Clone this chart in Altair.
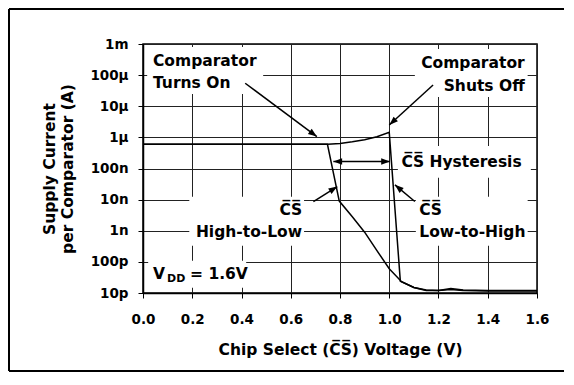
import math
import altair as alt
import pandas as pd

OL = "\u0305"
CS = "C" + OL + "S" + OL
FONT = "DejaVu Sans"

# ---- series (voltage V, current A) ----
lh_v = [0.0, 0.2, 0.4, 0.6, 0.7, 0.75, 0.8, 0.85, 0.9, 0.95, 1.0, 1.045, 1.1, 1.15, 1.2, 1.25, 1.3, 1.4, 1.5, 1.6]
lh_i = [6.0e-7, 6.0e-7, 6.0e-7, 6.0e-7, 6.0e-7, 6.0e-7, 6.4e-7, 7.2e-7, 8.4e-7, 1.05e-6, 1.45e-6,
        2.4e-11, 1.5e-11, 1.2e-11, 1.2e-11, 1.4e-11, 1.25e-11, 1.2e-11, 1.2e-11, 1.2e-11]
hl_v = [0.0, 0.2, 0.4, 0.6, 0.7, 0.749, 0.797, 0.85, 0.9, 0.95, 1.0, 1.05, 1.1, 1.15, 1.2, 1.25, 1.3, 1.4, 1.5, 1.6]
hl_i = [6.0e-7, 6.0e-7, 6.0e-7, 6.0e-7, 6.0e-7, 6.0e-7, 9.0e-9, 2.8e-9, 9.0e-10, 2.3e-10, 6.0e-11,
        2.3e-11, 1.5e-11, 1.25e-11, 1.2e-11, 1.3e-11, 1.2e-11, 1.15e-11, 1.15e-11, 1.15e-11]

x_ticks = [0.0, 0.2, 0.4, 0.6, 0.8, 1.0, 1.2, 1.4, 1.6]
y_ticks = [1e-11, 1e-10, 1e-9, 1e-8, 1e-7, 1e-6, 1e-5, 1e-4, 1e-3]

# ---- annotations ----
note_text = ["Comparator", "Turns On", "Comparator", "Shuts Off", CS + " Hysteresis",
             CS, "High-to-Low", CS, "Low-to-High"]
note_v = [0.0406, 0.0406, 1.550, 1.550, 1.050, 0.646, 0.646, 1.122, 1.122]
note_i = [1.97e-4, 3.87e-5, 1.70e-4, 3.10e-5, 1.15e-7, 3.25e-9, 6.26e-10, 3.25e-9, 6.26e-10]
note_align = ["left", "left", "right", "right", "left", "right", "right", "left", "left"]

box_v0 = [0.017, 1.104, 1.035, 0.188, 1.108, 0.021]
box_v1 = [0.488, 1.562, 1.575, 0.654, 1.562, 0.419]
box_i0 = [8.0e-4, 6.9e-4, 5.33e-7, 1.23e-8, 1.23e-8, 1.09e-10]
box_i1 = [2.48e-5, 1.99e-5, 5.0e-8, 3.29e-10, 3.29e-10, 1.48e-11]

arrow_v0 = [0.415, 1.178, 0.773, 0.692, 1.104]
arrow_i0 = [5.48e-5, 4.83e-5, 1.67e-7, 8.69e-9, 8.69e-9]
arrow_v1 = [0.706, 1.000, 1.003, 0.789, 1.023]
arrow_i1 = [1.06e-6, 2.51e-6, 1.67e-7, 2.63e-8, 2.99e-8]
arrow_both = [False, False, True, False, False]

vdd_v = [0.0406]
vdd_i = [2.87e-11]

W, H = 394, 249


def sx(v):
    return v / 1.6 * W


def sy(i):
    return (-3 - math.log10(i)) / 8 * H


def ang(xa, ya, xb, yb):
    dx = sx(xb) - sx(xa)
    dy = sy(yb) - sy(ya)
    return math.degrees(math.atan2(dx, -dy)) % 360


curves = pd.DataFrame({
    "v": lh_v + hl_v,
    "i": lh_i + hl_i,
    "s": ["LH"] * len(lh_v) + ["HL"] * len(hl_v),
    "o": list(range(len(lh_v))) + list(range(len(hl_v))),
})
notes = pd.DataFrame({"v": note_v, "i": note_i, "t": note_text, "a": note_align})
boxes = pd.DataFrame({"v": box_v0, "v2": box_v1, "i": box_i0, "i2": box_i1})
shafts = pd.DataFrame({"v": arrow_v0, "v2": arrow_v1, "i": arrow_i0, "i2": arrow_i1})
heads_rows = []
for k in range(len(arrow_v0)):
    heads_rows.append({"v": arrow_v1[k], "i": arrow_i1[k],
                       "ang": ang(arrow_v0[k], arrow_i0[k], arrow_v1[k], arrow_i1[k])})
    if arrow_both[k]:
        heads_rows.append({"v": arrow_v0[k], "i": arrow_i0[k],
                           "ang": ang(arrow_v1[k], arrow_i1[k], arrow_v0[k], arrow_i0[k])})
heads = pd.DataFrame(heads_rows)
vdd = pd.DataFrame({"v": vdd_v, "i": vdd_i})

x_scale = alt.Scale(domain=[0, 1.6], nice=False, zero=False)
y_scale = alt.Scale(type="log", domain=[1e-11, 1e-3], nice=False)
x_axis = alt.Axis(values=x_ticks, format=".1f", title="Chip Select (" + CS + ") Voltage (V)",
                  labelFlush=False, labelOverlap=False, tickSize=5, labelPadding=14, titlePadding=17)
y_axis = alt.Axis(values=y_ticks, format="~s", title=["Supply Current", "per Comparator (A)"],
                  labelOverlap=False, tickSize=5, labelPadding=10, titlePadding=14.5)


def X(f="v"):
    return alt.X(f + ":Q", scale=x_scale, axis=x_axis)


def Y(f="i"):
    return alt.Y(f + ":Q", scale=y_scale, axis=y_axis)


box_layer = alt.Chart(boxes).mark_rect(fill="white", strokeWidth=0).encode(
    x=X(), x2="v2:Q", y=Y(), y2="i2:Q")

curve_layer = alt.Chart(curves).mark_line(color="black", strokeWidth=1.5).encode(
    x=X(), y=Y(), detail="s:N", order="o:Q")

shaft_layer = alt.Chart(shafts).mark_rule(color="black", strokeWidth=1.5).encode(
    x=X(), x2="v2:Q", y=Y(), y2="i2:Q")

head_layer = alt.Chart(heads).mark_point(
    shape="M0,0L0.8,2.2L-0.8,2.2Z", filled=True, color="black", opacity=1, size=64, strokeWidth=0
).encode(x=X(), y=Y(), angle=alt.Angle("ang:Q", scale=None))

txt_style = dict(font=FONT, fontWeight="bold", fontSize=15.5, color="black", baseline="alphabetic")
left_txt = alt.Chart(notes[notes.a == "left"]).mark_text(align="left", **txt_style).encode(
    x=X(), y=Y(), text="t:N")
right_txt = alt.Chart(notes[notes.a == "right"]).mark_text(align="right", **txt_style).encode(
    x=X(), y=Y(), text="t:N")

vdd_a = alt.Chart(vdd).mark_text(align="left", **txt_style).encode(x=X(), y=Y(), text=alt.value("V"))
vdd_b = alt.Chart(vdd).mark_text(align="left", dx=14, dy=3, font=FONT, fontWeight="bold", fontSize=11,
                                 color="black", baseline="alphabetic").encode(
    x=X(), y=Y(), text=alt.value("DD"))
vdd_c = alt.Chart(vdd).mark_text(align="left", dx=37, **txt_style).encode(
    x=X(), y=Y(), text=alt.value("= 1.6V"))

one = alt.Data(values=[{"k": 1}])
frame_left = alt.Chart(one).mark_rule(color="black", strokeWidth=2).encode(
    x=alt.value(-134), y=alt.value(-35), y2=alt.value(327))
frame_top = alt.Chart(one).mark_rule(color="black", strokeWidth=2).encode(
    x=alt.value(-134), x2=alt.value(421), y=alt.value(-35))
frame_bottom = alt.Chart(one).mark_rule(color="black", strokeWidth=2).encode(
    x=alt.value(-134), x2=alt.value(421), y=alt.value(327))

chart = alt.layer(
    box_layer, curve_layer, shaft_layer, head_layer, left_txt, right_txt,
    vdd_a, vdd_b, vdd_c, frame_left, frame_top, frame_bottom
).properties(
    width=W, height=H, padding=0
).configure_view(
    stroke="black", strokeWidth=1.5
).configure_axis(
    labelFont=FONT, labelFontWeight="bold", labelFontSize=13.5, labelColor="black",
    titleFont=FONT, titleFontWeight="bold", titleFontSize=15.5, titleColor="black",
    titleLineHeight=18,
    domainColor="black", domainWidth=1.5, tickColor="black", tickWidth=1,
    gridColor="#222222", gridWidth=1, gridOpacity=1
)

chart.save("out.html", embed_options={"renderer": "svg", "actions": False})
